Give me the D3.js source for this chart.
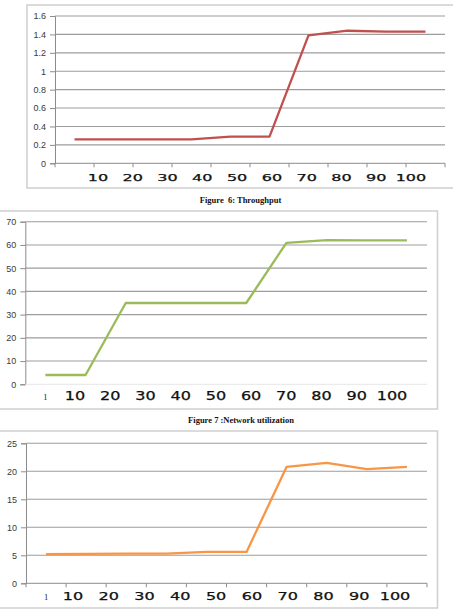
<!DOCTYPE html>
<html>
<head>
<meta charset="utf-8">
<script src="https://cdn.jsdelivr.net/npm/d3@7"></script>
<style>
  body { margin: 0; background: #fff; }
  svg { display: block; }
  .y-axis text { font-family: 'Liberation Sans', Arial, sans-serif; font-size: 9px; fill: #3a3a3a; }
  .xlab { font-family: 'DejaVu Sans', sans-serif; fill: #101010; stroke: #101010; stroke-width: 0.25px; }
  .xone { font-family: 'Liberation Serif', serif; font-size: 8.5px; fill: #222; }
  .caption { font-family: 'Liberation Serif', serif; font-weight: bold; font-size: 8.5px; fill: #111; white-space: pre; }
</style>
</head>
<body>
<svg id="fig"></svg>
<script>
'use strict';

// categories (10 runs on each chart)
const runs = [1, 2, 3, 4, 5, 6, 7, 8, 9, 10];

// series values
const throughput = [0.26, 0.26, 0.26, 0.26, 0.29, 0.29, 1.39, 1.44, 1.43, 1.43];
const utilization = [4, 4, 35, 35, 35, 35, 60.9, 62.1, 62, 62];
const thirdSeries = [5.2, 5.25, 5.3, 5.3, 5.6, 5.6, 20.8, 21.5, 20.4, 20.8];

// tick labels
const throughputTicks = [0, 0.2, 0.4, 0.6, 0.8, 1, 1.2, 1.4, 1.6];
const utilizationTicks = [0, 10, 20, 30, 40, 50, 60, 70];
const thirdTicks = [0, 5, 10, 15, 20, 25];
const tensLabels = ['10', '20', '30', '40', '50', '60', '70', '80', '90', '100'];
const firstLabel = '1';

const captions = ['Figure  6: Throughput', 'Figure 7 :Network utilization'];

const svg = d3.select('#fig')
    .attr('width', 453)
    .attr('height', 613);

function drawChart(c) {
  const g = svg.append('g');

  // outer chart frame
  g.append('rect')
      .attr('x', c.box[0])
      .attr('y', c.box[1])
      .attr('width', c.box[2] - c.box[0])
      .attr('height', c.box[3] - c.box[1])
      .attr('fill', 'none')
      .attr('stroke', '#cfcfcf')
      .attr('stroke-width', 1.5);

  const x = d3.scaleBand()
      .domain(runs)
      .range([c.left, c.right])
      .paddingInner(0)
      .paddingOuter(0);

  const y = d3.scaleLinear()
      .domain([0, c.ticks[c.ticks.length - 1]])
      .range([c.bottom, c.top]);

  // gridlines
  g.append('g')
      .selectAll('line')
      .data(c.ticks.filter(d => d > 0))
    .enter().append('line')
      .attr('x1', c.left)
      .attr('x2', c.right)
      .attr('y1', d => y(d))
      .attr('y2', d => y(d))
      .attr('stroke', '#9d9d9d')
      .attr('stroke-width', 1.1);

  // y axis
  const yAxis = d3.axisLeft(y)
      .tickValues(c.ticks)
      .tickFormat(d => String(d))
      .tickSize(5)
      .tickPadding(4);

  const ya = g.append('g')
      .attr('class', 'y-axis')
      .attr('transform', `translate(${c.left},0)`)
      .call(yAxis);
  ya.select('.domain').attr('stroke', '#8c8c8c');
  ya.selectAll('.tick line').attr('stroke', '#8c8c8c');

  // x axis line (with band ticks where the original shows them)
  const xa = g.append('g')
      .attr('transform', `translate(0,${c.bottom})`);
  xa.append('line')
      .attr('x1', c.left)
      .attr('x2', c.right)
      .attr('stroke', c.xTicks ? '#8c8c8c' : '#e6e6e6');
  if (c.xTicks) {
    xa.selectAll('line.tk')
        .data(runs.concat(['end']))
      .enter().append('line')
        .attr('class', 'tk')
        .attr('x1', d => d === 'end' ? c.right : x(d))
        .attr('x2', d => d === 'end' ? c.right : x(d))
        .attr('y1', 0)
        .attr('y2', 4)
        .attr('stroke', '#8c8c8c');
  }

  // data line
  const line = d3.line()
      .x((d, i) => x(runs[i]) + x.bandwidth() / 2)
      .y(d => y(d));

  g.append('path')
      .datum(c.values)
      .attr('d', line)
      .attr('fill', 'none')
      .attr('stroke', c.color)
      .attr('stroke-width', 2.3)
      .attr('stroke-linejoin', 'round');

  // category labels (wide font, spread irregularly in the original)
  const lx = d3.scalePoint()
      .domain(tensLabels)
      .range(c.labelRange);

  g.append('g')
      .selectAll('text')
      .data(tensLabels)
    .enter().append('text')
      .attr('class', 'xlab')
      .attr('x', d => lx(d))
      .attr('y', c.labelY)
      .attr('text-anchor', 'middle')
      .attr('font-size', c.labelSize)
      .attr('textLength', d => d.length * 10.2)
      .attr('lengthAdjust', 'spacingAndGlyphs')
      .text(d => d);

  if (c.withFirst) {
    g.append('text')
        .attr('class', 'xone')
        .attr('x', x(runs[0]) + x.bandwidth() / 2)
        .attr('y', c.labelY)
        .attr('text-anchor', 'middle')
        .text(firstLabel);
  }

  if (c.caption) {
    svg.append('text')
        .attr('class', 'caption')
        .attr('x', c.captionX)
        .attr('y', c.captionY)
        .attr('text-anchor', 'middle')
        .text(c.caption);
  }
}

drawChart({
  box: [27, 5, 470, 188],
  left: 55, right: 445, top: 16, bottom: 163.3,
  values: throughput, ticks: throughputTicks, color: '#c0504d',
  labelRange: [98, 411], labelY: 180.5, labelSize: 9.5,
  xTicks: true, withFirst: false,
  caption: captions[0], captionX: 240.5, captionY: 203
});

drawChart({
  box: [-5, 211, 437.5, 409],
  left: 25.3, right: 427, top: 221.7, bottom: 384.3,
  values: utilization, ticks: utilizationTicks, color: '#9bbb59',
  labelRange: [75, 392], labelY: 400, labelSize: 11.5,
  xTicks: false, withFirst: true,
  caption: captions[1], captionX: 241, captionY: 423
});

drawChart({
  box: [-5, 431, 437.5, 608],
  left: 26, right: 427, top: 443.3, bottom: 583.3,
  values: thirdSeries, ticks: thirdTicks, color: '#f79646',
  labelRange: [73, 395], labelY: 600, labelSize: 11,
  xTicks: true, withFirst: true
});
</script>
</body>
</html>
